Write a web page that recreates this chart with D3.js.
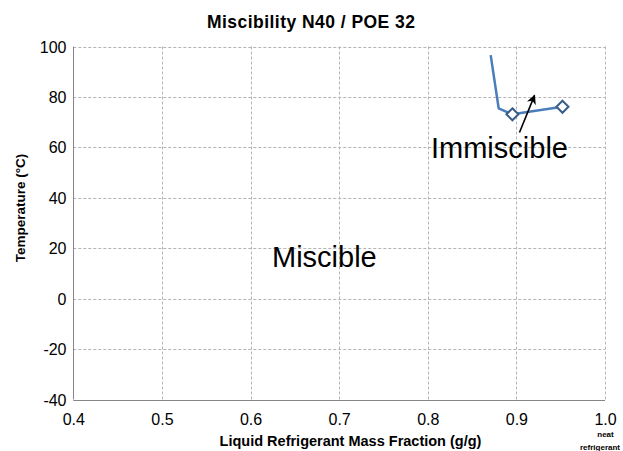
<!DOCTYPE html>
<html>
<head>
<meta charset="utf-8">
<script src="https://cdn.jsdelivr.net/npm/d3@7"></script>
<style>
  html, body { margin: 0; padding: 0; background: #fff; }
  svg { display: block; font-family: "Liberation Sans", Arial, sans-serif; }
</style>
</head>
<body>
<svg id="chart" width="623" height="451"></svg>
<script>
// Miscibility boundary for N40 / POE 32
const boundaryX = [0.871, 0.880, 0.8955, 0.952];
const boundaryT = [96.6, 75.5, 73.1, 76.1];
// Measured points (drawn as diamonds)
const measuredX = [0.8955, 0.952];
const measuredT = [73.1, 76.1];

const xTicks = [0.4, 0.5, 0.6, 0.7, 0.8, 0.9, 1.0];
const yTicks = [-40, -20, 0, 20, 40, 60, 80, 100];

const titleText = "Miscibility N40 / POE 32";
const xLabel = "Liquid Refrigerant Mass Fraction (g/g)";
const yLabel = "Temperature (°C)";

const svg = d3.select("#chart");
const plotL = 73.3, plotR = 605, plotT = 46.5, plotB = 399.5;

const x = d3.scaleLinear().domain([0.4, 1.0]).range([plotL, plotR]);
const y = d3.scaleLinear().domain([-40, 100]).range([plotB, plotT]);

// Dashed gridlines
const grid = svg.append("g").attr("stroke", "#b4b4b4").attr("stroke-width", 1)
  .attr("stroke-dasharray", "3,2").attr("fill", "none");
grid.selectAll("line.v").data(xTicks.slice(1)).join("line")
  .attr("x1", d => Math.round(x(d)) + 0.5).attr("x2", d => Math.round(x(d)) + 0.5)
  .attr("y1", plotT).attr("y2", plotB);
grid.selectAll("line.h").data(yTicks.slice(1)).join("line")
  .attr("x1", plotL).attr("x2", plotR)
  .attr("y1", d => Math.round(y(d)) + 0.5).attr("y2", d => Math.round(y(d)) + 0.5);

// Axes (solid left and bottom lines, no tick marks)
const xAxis = d3.axisBottom(x).tickValues(xTicks).tickFormat(d => d.toFixed(1)).tickSize(0).tickPadding(0);
const yAxis = d3.axisLeft(y).tickValues(yTicks).tickFormat(d => String(d)).tickSize(0).tickPadding(0);

const gx = svg.append("g").attr("transform", `translate(0,${Math.round(plotB) + 0.5})`).call(xAxis);
gx.select(".domain").attr("stroke", "#868686").attr("d", `M${plotL},0H${plotR}`);
gx.selectAll("text").attr("font-size", 16).attr("fill", "#000")
  .attr("font-family", "Liberation Sans, Arial, sans-serif")
  .attr("dy", null).attr("y", 24);

const gy = svg.append("g").attr("transform", `translate(${Math.round(plotL) + 0.5},0)`).call(yAxis);
gy.select(".domain").attr("stroke", "#868686").attr("d", `M0,${plotT}V${plotB}`);
gy.selectAll("text").attr("font-size", 16).attr("fill", "#000")
  .attr("font-family", "Liberation Sans, Arial, sans-serif")
  .attr("x", -7).attr("dy", "0.35em");

// Boundary curve
const line = d3.line().x(d => x(d[0])).y(d => y(d[1]));
svg.append("path")
  .datum(boundaryX.map((v, i) => [v, boundaryT[i]]))
  .attr("d", line)
  .attr("fill", "none").attr("stroke", "#4a7ebb").attr("stroke-width", 2.5)
  .attr("stroke-linejoin", "round");

// Diamond markers
svg.selectAll("path.pt").data(measuredX.map((v, i) => [v, measuredT[i]])).join("path")
  .attr("class", "pt")
  .attr("transform", d => `translate(${x(d[0])},${y(d[1])})`)
  .attr("d", "M0,-6L6,0L0,6L-6,0Z")
  .attr("fill", "#fff").attr("stroke", "#385d8a").attr("stroke-width", 2);

// Region labels
svg.append("text").attr("x", 431).attr("y", 158).attr("font-size", 29).text("Immiscible");
svg.append("text").attr("x", 272).attr("y", 266.7).attr("font-size", 29).text("Miscible");

// Arrow pointing into the immiscible region
svg.append("defs").append("marker")
  .attr("id", "ah").attr("viewBox", "0 0 10 10").attr("refX", 9).attr("refY", 5)
  .attr("markerWidth", 6).attr("markerHeight", 6).attr("orient", "auto")
  .append("path").attr("d", "M0,0L10,5L0,10L3,5Z").attr("fill", "#000");
svg.append("line")
  .attr("x1", x(0.9035)).attr("y1", y(65.9))
  .attr("x2", x(0.9205)).attr("y2", y(80.6))
  .attr("stroke", "#000").attr("stroke-width", 1.6).attr("marker-end", "url(#ah)");

// Title and axis titles
svg.append("text").attr("x", 311).attr("y", 27.7).attr("text-anchor", "middle")
  .attr("font-size", 17.5).attr("font-weight", "bold").attr("textLength", 208)
  .text(titleText);
svg.append("text").attr("x", 350.5).attr("y", 446).attr("text-anchor", "middle")
  .attr("font-size", 14.5).attr("font-weight", "bold").text(xLabel);
svg.append("text").attr("transform", "translate(25,208) rotate(-90)").attr("text-anchor", "middle")
  .attr("font-size", 13.5).attr("font-weight", "bold").text(yLabel);

// Note under the 1.0 tick
svg.append("text").attr("x", 605.5).attr("y", 436.5).attr("text-anchor", "middle")
  .attr("font-size", 8).attr("font-weight", "bold").text("neat");
svg.append("text").attr("x", 600).attr("y", 450).attr("text-anchor", "middle")
  .attr("font-size", 8).attr("font-weight", "bold").text("refrigerant");
</script>
</body>
</html>
